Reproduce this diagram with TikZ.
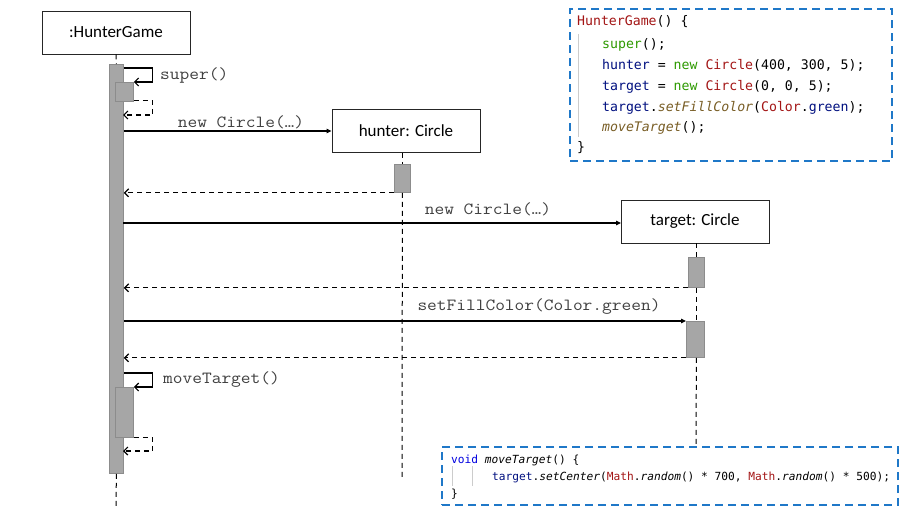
\documentclass[tikz,border=0pt]{standalone}
\usepackage{fontspec}
\usepackage{graphicx}
\setmainfont{Carlito}
\newfontfamily\code{DejaVu Sans Mono}
\usetikzlibrary{arrows.meta}
\definecolor{actfill}{HTML}{A6A6A6}
\definecolor{actdraw}{HTML}{8C8C8C}
\definecolor{codeblue}{HTML}{1F78C8}
\definecolor{kmaroon}{HTML}{A31515}
\definecolor{knavy}{HTML}{001080}
\definecolor{kgreen}{HTML}{2E9A00}
\definecolor{kolive}{HTML}{795E26}
\definecolor{kblue}{HTML}{0000E0}
\definecolor{lbl}{HTML}{404040}
\newcommand{\kM}[1]{\textcolor{kmaroon}{#1}}
\newcommand{\kN}[1]{\textcolor{knavy}{#1}}
\newcommand{\kG}[1]{\textcolor{kgreen}{#1}}
\newcommand{\kF}[1]{\textcolor{kolive}{\itshape #1}}
\newcommand{\kI}[1]{{\itshape #1}}
\newcommand{\kV}[1]{\textcolor{kblue}{#1}}
\newcommand{\msgtxt}[1]{\scalebox{1.11}[1]{#1}}
\tikzset{
  objbox/.style={draw=black!85, line width=0.9pt, fill=white, minimum width=148pt, minimum height=43pt, inner sep=0pt, font=\fontsize{17}{19}\selectfont},
  actbar/.style={draw=actdraw, fill=actfill, line width=0.8pt, inner sep=0pt, anchor=north west},
  life/.style={draw=black, line width=1pt, dash pattern=on 5pt off 4pt},
  callmsg/.style={draw=black, line width=1.2pt, -{Triangle[length=5pt,width=4.5pt]}},
  selfmsg/.style={draw=black, line width=1.2pt, -{Straight Barb[length=4pt,width=8pt,line width=1.2pt]}},
  retmsg/.style={draw=black, line width=1.2pt, dash pattern=on 5pt off 4pt, -{Straight Barb[length=4pt,width=8pt,line width=1.2pt]}},
  msglabel/.style={text=lbl, inner sep=0pt, font=\ttfamily\fontsize{17}{19}\selectfont},
  codebox/.style={draw=codeblue, line width=2.4pt, dash pattern=on 8pt off 5pt, inner sep=0pt, anchor=north west},
  codeA/.style={anchor=base west, inner sep=0pt, font=\code\fontsize{13.2}{15}\selectfont},
  codeB/.style={anchor=base west, inner sep=0pt, font=\code\fontsize{11.2}{13}\selectfont},
  guide/.style={draw=black!20, line width=0.8pt},
}
\begin{document}
\begin{tikzpicture}[x=1pt,y=-1pt]
\useasboundingbox[fill=white] (0,0) rectangle (900,506);

% object boxes
\node[objbox] (hg) at (116,32.5) {:HunterGame};
\node[objbox] (h) at (406,131) {hunter: Circle};
\node[objbox] (t) at (695,221.5) {target: Circle};

% activation bars
\node[actbar, minimum width=14pt, minimum height=409pt] (a1) at (109,64) {};
\node[actbar, minimum width=16pt, minimum height=28pt] (ha) at (394,164) {};
\node[actbar, minimum width=16pt, minimum height=30pt] (ta1) at (688,257) {};
\node[actbar, minimum width=18pt, minimum height=36pt] (ta2) at (686,321) {};
\node[actbar, minimum width=18pt, minimum height=19pt] (a2) at (115,82) {};
\node[actbar, minimum width=18pt, minimum height=50pt] (a3) at (115,387) {};

% lifelines
\coordinate (hgend) at (116,506);
\coordinate (hend) at (402,480);
\coordinate (tend) at (696,446);
\draw[life] (hg.south) -- (a1.north);
\draw[life] (a1.south) -- (hgend);
\draw[life] (h.south -| ha.north) -- (ha.north);
\draw[life] (ha.south) -- (hend);
\draw[life] (t.south -| ta1.north) -- (ta1.north);
\draw[life] (ta1.south) -- (ta1.south |- ta2.north);
\draw[life] (ta2.south -| ta1.south) -- (tend);

% super()
\coordinate (r1) at (123,115);
\draw[selfmsg] ([yshift=-4pt]a1.north east) -- ++(29,0) |- (a2.north east);
\draw[retmsg] ([yshift=1pt]a2.south east) -- ++(19,0) |- (r1);
\node[msglabel, anchor=west] (lsuper) at (160,75) {\msgtxt{super()}};

% new Circle hunter
\draw[callmsg] (h.west -| a1.east) -- (h.west);
\node[msglabel] (lnew1) at (241,122) {\msgtxt{new Circle(…)}};
\draw[retmsg] (ha.south west) -- (ha.south west -| a1.east);

% new Circle target
\coordinate (c2) at (123,223);
\coordinate (tw) at (621,223);
\draw[callmsg] (c2) -- (tw);
\node[msglabel] (lnew2) at (488,209) {\msgtxt{new Circle(…)}};
\draw[retmsg] (ta1.south west) -- (ta1.south west -| a1.east);

% setFillColor
\draw[callmsg] (ta2.north west -| a1.east) -- (ta2.north west);
\node[msglabel] (lfill) at (539,307) {\msgtxt{setFillColor(Color.green)}};
\draw[retmsg] (ta2.south west) -- (ta2.south west -| a1.east);

% moveTarget()
\coordinate (r2) at (123,451);
\draw[selfmsg] ([yshift=-309pt]a1.north east) -- ++(29,0) |- (a3.north east);
\draw[retmsg] (a3.south east) -- ++(19,0) |- (r2);
\node[msglabel, anchor=west] (lmove) at (163,380) {\msgtxt{moveTarget()}};

% code box 1
\node[codebox, minimum width=322pt, minimum height=152pt] (cb1) at (569,8) {};
\draw[guide] (578,34) -- (578,137);
\node[codeA] (l11) at (577,25) {\kM{HunterGame}() \{};
\node[codeA] (l12) at (602,48) {\kG{super}();};
\node[codeA] (l13) at (602,69) {\kN{hunter} = \kG{new} \kM{Circle}(400, 300, 5);};
\node[codeA] (l14) at (602,90) {\kN{target} = \kG{new} \kM{Circle}(0, 0, 5);};
\node[codeA] (l15) at (602,111) {\kN{target}.\kF{setFillColor}(\kM{Color}.\kN{green});};
\node[codeA] (l16) at (602,131) {\kF{moveTarget}();};
\node[codeA] (l17) at (577,151) {\}};

% code box 2
\node[codebox, minimum width=456pt, minimum height=58pt] (cb2) at (441,446) {};
\draw[guide] (452,466) -- (452,486);
\draw[guide] (472,466) -- (472,486);
\node[codeB] (l21) at (451,463) {\kV{void} \kI{moveTarget}() \{};
\node[codeB] (l22) at (492,480) {\kN{target}.\kI{setCenter}(\kM{Math}.\kI{random}() * 700, \kM{Math}.\kI{random}() * 500);};
\node[codeB] (l23) at (451,497) {\}};
\end{tikzpicture}
\end{document}
